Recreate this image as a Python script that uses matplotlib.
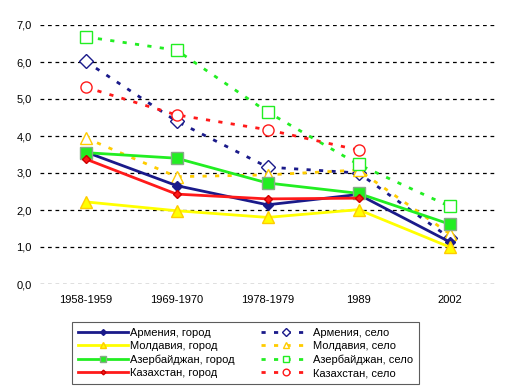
import matplotlib
matplotlib.use("Agg")
import matplotlib.pyplot as plt
import numpy as np

plt.rcParams['font.family'] = ['Liberation Sans', 'DejaVu Sans']

years = ['1958-1959', '1969-1970', '1978-1979', '1989', '2002']

armenia_city = [3.57, 2.66, 2.14, 2.42, 1.14]
moldova_city = [2.22, 1.98, 1.80, 2.01, 1.00]
azerb_city = [3.55, 3.40, 2.73, 2.45, 1.62]
kazakh_city = [3.38, 2.43, 2.30, 2.32, np.nan]

armenia_village = [6.02, 4.40, 3.16, 3.00, 1.25]
moldova_village = [3.95, 2.90, 2.95, 3.08, 1.36]
azerb_village = [6.68, 6.32, 4.65, 3.23, 2.10]
kazakh_village = [5.32, 4.57, 4.17, 3.62, np.nan]

navy = '#1a1a8a'
yellow = '#ffff00'
gold = '#ffcc00'
green = '#22ee22'
red = '#ff1a1a'

fig = plt.figure(figsize=(5.11, 3.90), dpi=100)
ax = fig.add_axes([40 / 511, 1 - 284 / 390, 455 / 511, 259 / 390])

x = np.arange(len(years))
dash = (1.5, 3.0)

ax.plot(x, armenia_city, color=navy, lw=2, marker='D', ms=5, mfc=navy, mec=navy,
        label='Армения, город', zorder=4)
ax.plot(x, moldova_city, color=yellow, lw=2, marker='^', ms=8, mfc=yellow, mec=gold,
        label='Молдавия, город', zorder=4)
ax.plot(x, azerb_city, color=green, lw=2, marker='s', ms=8, mfc=green, mec='#88aa88',
        label='Азербайджан, город', zorder=4)
ax.plot(x, kazakh_city, color=red, lw=2, marker='D', ms=4, mfc=red, mec='#cc0000',
        label='Казахстан, город', zorder=4)

ax.plot(x, armenia_village, color=navy, lw=2, ls=(0, dash), marker='D', ms=7, mfc='white',
        mec=navy, mew=1, label='Армения, село', zorder=3)
ax.plot(x, moldova_village, color=gold, lw=2, ls=(0, dash), marker='^', ms=8, mfc='white',
        mec=gold, mew=1, label='Молдавия, село', zorder=3)
ax.plot(x, azerb_village, color=green, lw=2, ls=(0, dash), marker='s', ms=8, mfc='white',
        mec=green, mew=1, label='Азербайджан, село', zorder=3)
ax.plot(x, kazakh_village, color=red, lw=2, ls=(0, dash), marker='o', ms=8, mfc='white',
        mec=red, mew=1, label='Казахстан, село', zorder=3)

ax.set_xlim(-0.5, 4.5)
ax.set_ylim(0, 7)
ax.set_xticks(x)
ax.set_xticklabels(years)
yt = np.arange(0, 8, 1)
ax.set_yticks(yt)
ax.set_yticklabels([f'{v:.1f}'.replace('.', ',') for v in yt])
ax.tick_params(length=0, labelsize=8, colors='black')
ax.tick_params(axis='x', pad=8)
ax.tick_params(axis='y', pad=6)
ax.yaxis.grid(True, color='black', ls=(0, (3, 3)), lw=0.9)
ax.set_axisbelow(True)
for s in ax.spines.values():
    s.set_visible(False)

leg = fig.legend(loc='upper left', bbox_to_anchor=(72 / 511, 1 - 322 / 390), ncol=2,
                 fontsize=8, frameon=True, fancybox=False, edgecolor='#333333',
                 handlelength=4.5, columnspacing=2.4, labelspacing=0.3, handletextpad=0.2,
                 borderpad=0.5, borderaxespad=0, markerscale=0.6)
leg.get_frame().set_linewidth(0.8)

fig.savefig('out.png', dpi=100)
